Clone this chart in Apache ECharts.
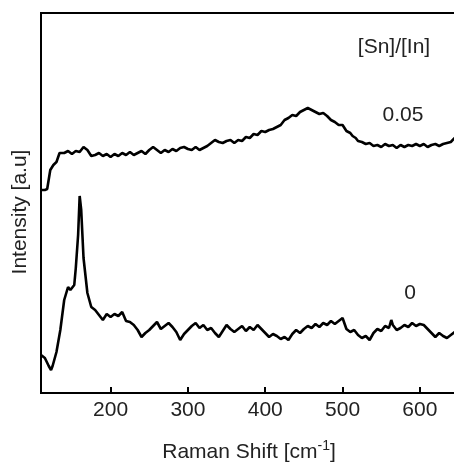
<!DOCTYPE html>
<html>
<head>
<meta charset="utf-8">
<script src="https://cdn.jsdelivr.net/npm/echarts@6/dist/echarts.min.js"></script>
<style>
  html, body { margin: 0; padding: 0; background: #fff; }
  #chart { width: 454px; height: 462px; }
</style>
</head>
<body>
<div id="chart"></div>
<script>
// Raman shift (cm-1) and intensity (a.u.)
var shift0 = [110, 112, 115, 120, 123, 125, 130, 135, 140, 145, 148, 150, 153, 155, 158, 160, 162, 165, 170, 175,
  180, 185, 190, 195, 200, 205, 210, 215, 220, 225, 230, 235, 240, 245, 250, 255, 260, 265, 270, 275,
  280, 285, 290, 295, 300, 305, 310, 315, 320, 325, 330, 335, 340, 345, 350, 355, 360, 365, 370, 375,
  380, 385, 390, 395, 400, 405, 410, 415, 420, 425, 430, 435, 440, 445, 450, 455, 460, 465, 470, 475,
  480, 485, 490, 495, 500, 505, 510, 515, 520, 525, 530, 535, 540, 545, 550, 555, 560, 563, 565, 570,
  575, 580, 585, 590, 595, 600, 605, 610, 615, 620, 625, 630, 635, 640, 645];
var int0 = [38, 37, 35, 27, 23, 27, 41, 63, 93, 106, 103, 102, 108, 125, 158, 197, 183, 135, 100, 86,
  83, 78, 73, 79, 76, 79, 77, 81, 72, 71, 68, 63, 56, 60, 63, 67, 71, 64, 67, 70,
  66, 61, 53, 59, 63, 67, 70, 65, 68, 63, 65, 60, 56, 62, 68, 64, 61, 64, 67, 62,
  66, 63, 68, 64, 60, 56, 59, 57, 54, 56, 53, 59, 63, 60, 64, 67, 65, 69, 66, 70,
  68, 72, 69, 72, 75, 64, 61, 63, 58, 55, 57, 53, 60, 64, 62, 67, 65, 73, 68, 63,
  65, 68, 66, 70, 67, 69, 68, 64, 60, 56, 60, 57, 55, 58, 61];

var shift05 = [110, 115, 118, 122, 126, 130, 134, 140, 145, 150, 155, 160, 165, 170, 175, 180, 185, 190, 195, 200,
  205, 210, 215, 220, 225, 230, 235, 240, 245, 250, 255, 260, 265, 270, 275, 280, 285, 290, 295, 300,
  305, 310, 315, 320, 325, 330, 335, 340, 345, 350, 355, 360, 365, 370, 375, 380, 385, 390, 395, 400,
  405, 410, 415, 420, 425, 430, 435, 440, 445, 450, 455, 460, 465, 470, 475, 480, 485, 490, 495, 500,
  505, 510, 513, 517, 520, 525, 530, 535, 540, 545, 550, 555, 560, 565, 570, 575, 580, 585, 590, 595,
  600, 605, 610, 615, 620, 625, 630, 635, 640, 645];
var int05 = [203, 203, 204, 223, 228, 231, 240, 240, 242, 239, 242, 241, 246, 243, 237, 238, 240, 237, 239, 236,
  239, 237, 240, 238, 241, 238, 240, 242, 239, 243, 246, 243, 240, 243, 241, 244, 242, 245, 246, 244,
  243, 246, 243, 245, 247, 250, 253, 251, 250, 252, 253, 250, 253, 252, 256, 255, 259, 258, 262, 261,
  263, 264, 266, 268, 273, 275, 278, 277, 281, 283, 285, 283, 281, 279, 280, 277, 273, 271, 268, 268,
  262, 260, 257, 255, 252, 251, 249, 250, 247, 248, 246, 249, 247, 248, 245, 248, 246, 248, 247, 249,
  247, 249, 246, 248, 249, 247, 249, 250, 251, 255];

var xTicks = [200, 300, 400, 500, 600];

function pairs(xs, ys) {
  return xs.map(function (x, i) { return [x, ys[i]]; });
}

var chart = echarts.init(document.getElementById('chart'));

var font = 'Liberation Sans, Arial, sans-serif';

var option = {
  animation: false,
  grid: {
    left: 41, right: -3, top: 13, bottom: 69,
    outerBoundsMode: 'none',
    show: true, borderColor: '#000', borderWidth: 2
  },
  xAxis: {
    type: 'value',
    min: 110,
    max: 648,
    splitNumber: 5,
    name: 'Raman Shift [cm{sup|-1}]',
    nameLocation: 'middle',
    nameGap: 46,
    nameTextStyle: {
      fontFamily: font, fontSize: 21, color: '#222',
      rich: { sup: { fontFamily: font, fontSize: 14, color: '#222', padding: [0, 0, 12, 0] } }
    },
    axisLine: { lineStyle: { color: '#000', width: 2 } },
    axisTick: { show: true, inside: true, length: 6, lineStyle: { color: '#000', width: 2 } },
    axisLabel: {
      margin: 7, fontFamily: font, fontSize: 21, color: '#222',
      showMinLabel: false, showMaxLabel: false,
      formatter: function (v) { return xTicks.indexOf(v) >= 0 ? String(v) : ''; }
    },
    splitLine: { show: false }
  },
  yAxis: {
    type: 'value',
    min: 0,
    max: 380,
    name: 'Intensity [a.u]',
    nameLocation: 'middle',
    nameGap: 10,
    nameTextStyle: { fontFamily: font, fontSize: 21, color: '#222', padding: [0, 18, 0, 0] },
    axisLine: { lineStyle: { color: '#000', width: 2 } },
    axisTick: { show: false },
    axisLabel: { show: false },
    splitLine: { show: false }
  },
  graphic: [
    { type: 'text', x: 394, y: 47, style: { text: '[Sn]/[In]', font: '21px ' + font, fill: '#222', textAlign: 'center', textVerticalAlign: 'middle' } },
    { type: 'text', x: 403, y: 115, style: { text: '0.05', font: '21px ' + font, fill: '#222', textAlign: 'center', textVerticalAlign: 'middle' } },
    { type: 'text', x: 410, y: 293, style: { text: '0', font: '21px ' + font, fill: '#222', textAlign: 'center', textVerticalAlign: 'middle' } }
  ],
  series: [
    {
      name: '0',
      type: 'line',
      data: pairs(shift0, int0),
      showSymbol: false,
      lineStyle: { color: '#000', width: 2.6 }
    },
    {
      name: '0.05',
      type: 'line',
      data: pairs(shift05, int05),
      showSymbol: false,
      lineStyle: { color: '#000', width: 2.6 }
    }
  ]
};

chart.setOption(option);
</script>
</body>
</html>
